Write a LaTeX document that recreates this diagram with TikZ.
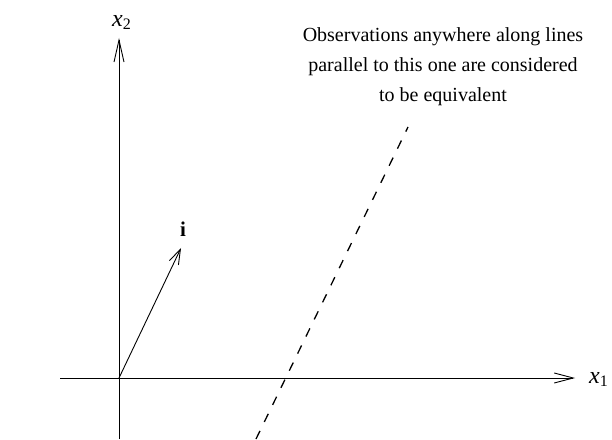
\documentclass[tikz,border=0pt]{standalone}
\usepackage{fontspec}
\setmainfont{Liberation Serif}
\usetikzlibrary{arrows.meta}
\begin{document}
\begin{tikzpicture}[x=1pt,y=1pt,
  axis/.style={line width=0.9pt},
  tip/.style={-{Straight Barb[length=#1,width=10pt,line width=0.9pt]}},
  lbl/.style={inner sep=0pt, font=\fontsize{24}{28}\selectfont},
  dashedline/.style={line width=1.3pt, dash pattern=on 9pt off 10pt}]
\useasboundingbox (0,0) rectangle (612,439);
\coordinate (O) at (119,61);
\coordinate (ybot) at (119,0);
\coordinate (ytop) at (119,401);
\coordinate (xleft) at (60,61);
\coordinate (xright) at (575,61);
\coordinate (itip) at (181,191);
\coordinate (dbot) at (256,0);
\coordinate (dtop) at (408,312);
\draw[axis] (ybot) -- (O);
\draw[axis,tip=22pt] (O) -- (ytop);
\draw[axis,tip=19pt] (xleft) -- (xright);
\draw[axis,tip=15pt] (O) -- (itip);
\draw[dashedline] (dbot) -- (dtop);
\node[lbl, anchor=base west] (x2) at (112,412) {\textit{x}\raisebox{-3pt}{\fontsize{16}{18}\selectfont 2}};
\node[lbl, anchor=base west] (x1) at (589,56) {\textit{x}\raisebox{-3pt}{\fontsize{16}{18}\selectfont 1}};
\node[inner sep=0pt, anchor=base, font=\fontsize{21}{25}\selectfont] (iv) at (183,202) {\textbf{i}};
\node[inner sep=0pt, align=center, anchor=base, font=\fontsize{20}{30}\selectfont] (note) at (443,337)
  {Observations anywhere along lines\\parallel to this one are considered\\to be equivalent};
\end{tikzpicture}
\end{document}
